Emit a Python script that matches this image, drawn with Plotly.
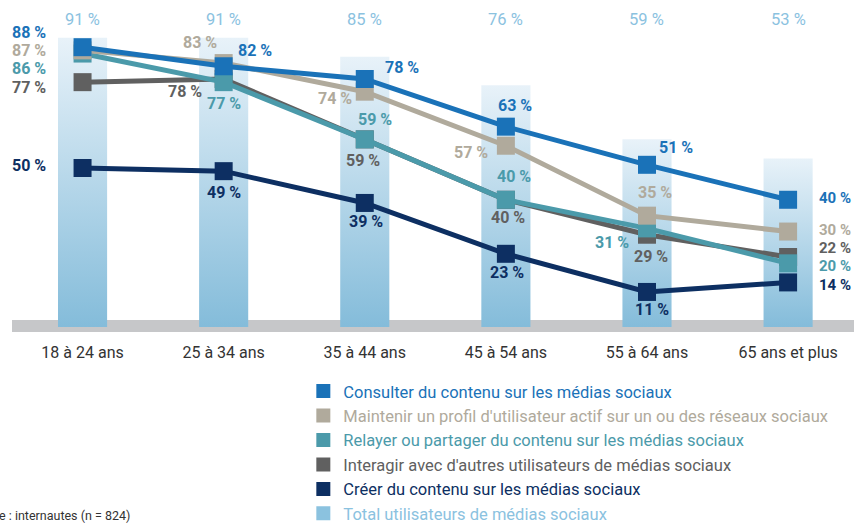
import plotly.graph_objects as go

# data
age_groups = ["18 à 24 ans", "25 à 34 ans", "35 à 44 ans", "45 à 54 ans", "55 à 64 ans", "65 ans et plus"]
total_users = [91, 91, 85, 76, 59, 53]
consulter = [88, 82, 78, 63, 51, 40]
maintenir = [87, 83, 74, 57, 35, 30]
relayer = [86, 77, 59, 40, 31, 20]
interagir = [77, 78, 59, 40, 29, 22]
creer = [50, 49, 39, 23, 11, 14]

names = {
    "consulter": "Consulter du contenu sur les médias sociaux",
    "maintenir": "Maintenir un profil d'utilisateur actif sur un ou des réseaux sociaux",
    "relayer": "Relayer ou partager du contenu sur les médias sociaux",
    "interagir": "Interagir avec d'autres utilisateurs de médias sociaux",
    "creer": "Créer du contenu sur les médias sociaux",
    "total": "Total utilisateurs de médias sociaux",
}
colors = {
    "consulter": "#1a72b8",
    "maintenir": "#b0aa9c",
    "relayer": "#4b9aaa",
    "interagir": "#606060",
    "creer": "#0d2f62",
    "total": "#8bc2df",
}
series = {
    "consulter": consulter,
    "maintenir": maintenir,
    "relayer": relayer,
    "interagir": interagir,
    "creer": creer,
}

# label placement per point: (xanchor, xshift, yshift)
label_pos = {
    "consulter": [("right", -35, 15), ("left", 12, 16), ("left", 18, 11), ("center", 9, 21), ("left", 10, 17), ("left", 29, 2)],
    "maintenir": [("right", -35, 0), ("right", -5, 21), ("right", -11, -7), ("right", -16, -7), ("center", 8, 23), ("left", 29, 2)],
    "relayer": [("right", -35, -15), ("center", 0, -21), ("center", 10, 20), ("center", 8, 23), ("right", -16, -14), ("left", 29, -3)],
    "interagir": [("right", -35, -5), ("right", -20, -13), ("center", -2, -21), ("center", 2, -18), ("center", 4, -22), ("left", 29, 9)],
    "creer": [("right", -35, 2), ("center", 0, -21), ("center", 1, -19), ("center", 1, -19), ("center", 5, -18), ("left", 29, -3)],
}

FONT = "Roboto, Liberation Sans, sans-serif"
x = list(range(len(age_groups)))
half = 0.174

fig = go.Figure()

# total bars with vertical gradient
for i, v in zip(x, total_users):
    fig.add_trace(go.Scatter(
        x=[i - half, i + half, i + half, i - half, i - half],
        y=[0, 0, v, v, 0],
        mode="lines", fill="toself", line=dict(width=0),
        fillgradient=dict(type="vertical", colorscale=[[0, "#84bcda"], [1, "#e8f2f9"]]),
        showlegend=False, hoverinfo="skip",
    ))

# lines, back to front
for key in ["interagir", "creer", "relayer", "maintenir", "consulter"]:
    fig.add_trace(go.Scatter(
        x=x, y=series[key], mode="lines+markers",
        line=dict(color=colors[key], width=5),
        marker=dict(symbol="square", size=18, color=colors[key]),
        showlegend=False, hoverinfo="skip",
    ))

# legend entries
for key in ["consulter", "maintenir", "relayer", "interagir", "creer", "total"]:
    fig.add_trace(go.Scatter(
        x=[None], y=[None], mode="markers",
        marker=dict(symbol="square", size=14, color=colors[key]),
        name=f'<span style="color:{colors[key]}">{names[key]}</span>',
    ))

# value labels
for key, vals in series.items():
    for i, v in zip(x, vals):
        anchor, xs, ys = label_pos[key][i]
        fig.add_annotation(
            x=i, y=v, text=f"{v} %", showarrow=False,
            xanchor=anchor, yanchor="middle", xshift=xs, yshift=ys,
            font=dict(family=FONT, size=15 if i == x[-1] else 16, color=colors[key], weight="bold"),
        )

# total labels at top
for i, v in zip(x, total_users):
    fig.add_annotation(
        x=i, y=1, yref="paper", text=f"{v} %", showarrow=False,
        yanchor="top", yshift=2,
        font=dict(family=FONT, size=16.5, color=colors["total"]),
    )

fig.add_annotation(
    x=0.142, y=-0.571, xref="paper", yref="paper", text="Base : internautes (n = 824)",
    showarrow=False, xanchor="right", yanchor="middle",
    font=dict(family=FONT, size=12.5, color="#333333"),
)

# grey baseline band
fig.add_shape(type="rect", xref="paper", yref="y", x0=0, x1=1, y0=-1.6, y1=2.2,
              fillcolor="#c6c7c9", line=dict(width=0), layer="below")

fig.update_layout(
    width=854, height=523,
    margin=dict(l=12, r=0, t=10, b=191, autoexpand=False),
    plot_bgcolor="white", paper_bgcolor="white",
    font=dict(family=FONT, size=16, color="#333333"),
    xaxis=dict(range=[-0.5, 5.467], tickvals=x, ticktext=age_groups, showgrid=False,
               zeroline=False, showline=False, ticks="", ticklabelstandoff=9,
               tickfont=dict(size=16, color="#333333")),
    yaxis=dict(range=[-1.6, 99.7], visible=False),
    legend=dict(x=0.346, y=-0.130, xanchor="left", yanchor="top", font=dict(size=16.5),
                bgcolor="rgba(0,0,0,0)", tracegroupgap=0),
)

fig.write_html("out.html", config={"displayModeBar": False},
               post_script="document.body.style.margin='0';document.body.style.overflow='hidden';")
